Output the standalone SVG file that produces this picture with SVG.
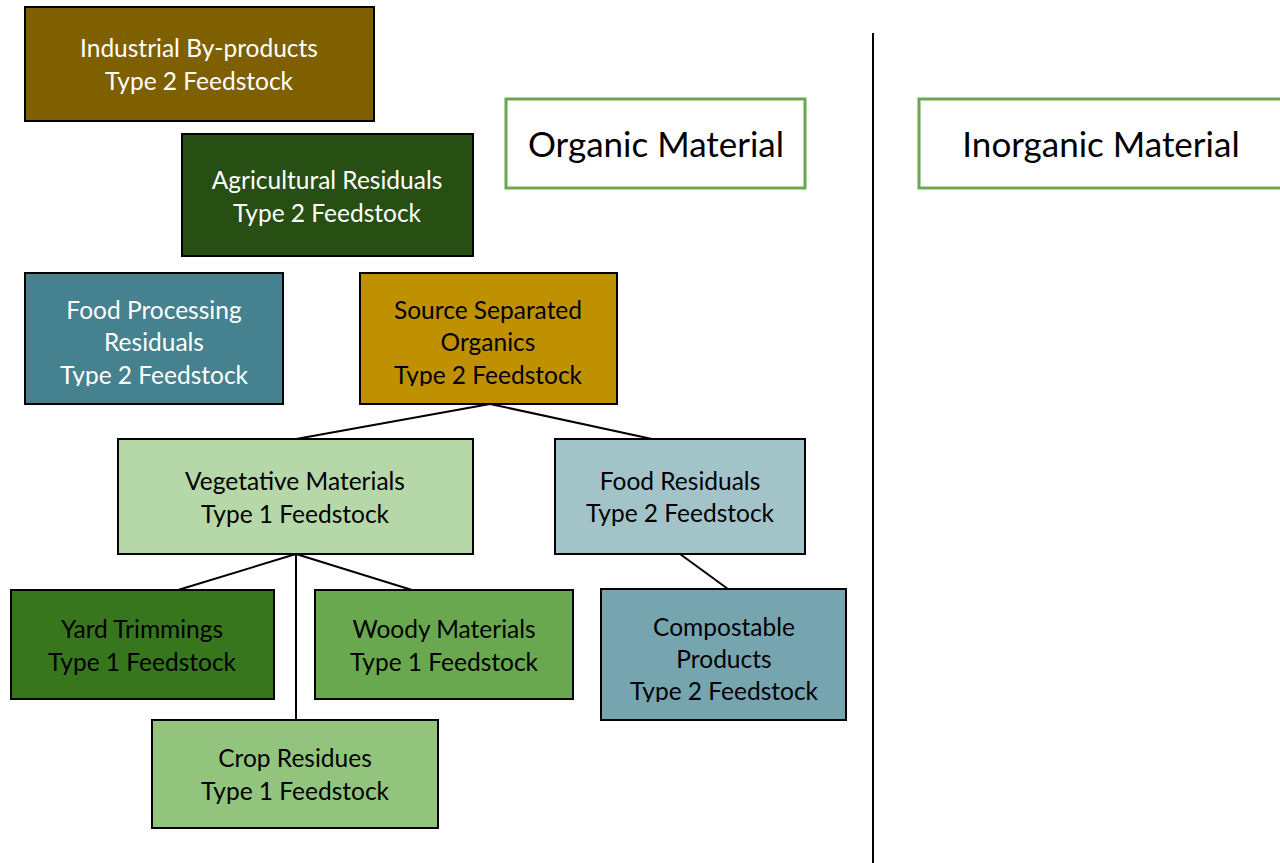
<svg xmlns="http://www.w3.org/2000/svg" width="1280" height="863" viewBox="0 0 1280 863">
  <style>
    .box { stroke: #000; stroke-width: 2; }
    .hdr { fill: #fff; stroke: #6aa84f; stroke-width: 3; }
    text { font-family: Lato, "Open Sans", "Liberation Sans", sans-serif; text-anchor: middle; }
    .lbl { font-size: 24.5px; }
    .big { font-size: 35px; fill: #000; }
    .w { fill: #fff; }
    .k { fill: #000; }
    .conn line { stroke: #000; stroke-width: 2; }
  </style>
  <defs>
    <!-- text areas of the three-line boxes cut off just under the last baseline -->
    <clipPath id="clipFood"><rect x="25" y="273" width="258" height="113"/></clipPath>
    <clipPath id="clipSource"><rect x="360" y="273" width="257" height="113"/></clipPath>
    <clipPath id="clipCompost"><rect x="601" y="589" width="245" height="113"/></clipPath>
  </defs>
  <rect width="1280" height="863" fill="#fff"/>

  <!-- divider between organic and inorganic -->
  <line x1="873" y1="33" x2="873" y2="863" stroke="#000" stroke-width="2"/>

  <g class="conn" id="connectors">
    <line x1="490" y1="404" x2="296" y2="439"/>
    <line x1="490" y1="404" x2="652" y2="439"/>
    <line x1="296" y1="554" x2="178" y2="590"/>
    <line x1="296" y1="554" x2="412" y2="590"/>
    <line x1="296" y1="554" x2="296" y2="720"/>
    <line x1="680" y1="554" x2="728" y2="589"/>
  </g>

  <g id="industrial">
    <rect class="box" x="25" y="7" width="349" height="114" fill="#7f6000"/>
    <text class="lbl w" x="199" y="57">Industrial By-products</text>
    <text class="lbl w" x="199" y="90">Type 2 Feedstock</text>
  </g>

  <g id="agricultural">
    <rect class="box" x="182" y="134" width="291" height="122" fill="#274e13"/>
    <text class="lbl w" x="327" y="189">Agricultural Residuals</text>
    <text class="lbl w" x="327" y="222">Type 2 Feedstock</text>
  </g>

  <g id="food-processing">
    <rect class="box" x="25" y="273" width="258" height="131" fill="#45818e"/>
    <g clip-path="url(#clipFood)">
      <text class="lbl w" x="154" y="319">Food Processing</text>
      <text class="lbl w" x="154" y="351">Residuals</text>
      <text class="lbl w" x="154" y="384">Type 2 Feedstock</text>
    </g>
  </g>

  <g id="source-separated">
    <rect class="box" x="360" y="273" width="257" height="131" fill="#bf9000"/>
    <g clip-path="url(#clipSource)">
      <text class="lbl k" x="488" y="319">Source Separated</text>
      <text class="lbl k" x="488" y="351">Organics</text>
      <text class="lbl k" x="488" y="384">Type 2 Feedstock</text>
    </g>
  </g>

  <g id="organic-material">
    <rect class="hdr" x="506" y="99" width="299" height="89"/>
    <text class="big" x="656" y="157">Organic Material</text>
  </g>

  <g id="inorganic-material">
    <rect class="hdr" x="919" y="99" width="364" height="89"/>
    <text class="big" x="1101" y="157">Inorganic Material</text>
  </g>

  <g id="vegetative">
    <rect class="box" x="118" y="439" width="355" height="115" fill="#b6d7a8"/>
    <text class="lbl k" x="295" y="490">Vegetative Materials</text>
    <text class="lbl k" x="295" y="523">Type 1 Feedstock</text>
  </g>

  <g id="food-residuals">
    <rect class="box" x="555" y="439" width="250" height="115" fill="#a2c4c9"/>
    <text class="lbl k" x="680" y="490">Food Residuals</text>
    <text class="lbl k" x="680" y="522">Type 2 Feedstock</text>
  </g>

  <g id="yard-trimmings">
    <rect class="box" x="11" y="590" width="263" height="109" fill="#38761d"/>
    <text class="lbl k" x="142" y="638">Yard Trimmings</text>
    <text class="lbl k" x="142" y="671">Type 1 Feedstock</text>
  </g>

  <g id="woody-materials">
    <rect class="box" x="315" y="590" width="258" height="109" fill="#6aa84f"/>
    <text class="lbl k" x="444" y="638">Woody Materials</text>
    <text class="lbl k" x="444" y="671">Type 1 Feedstock</text>
  </g>

  <g id="compostable-products">
    <rect class="box" x="601" y="589" width="245" height="131" fill="#76a5af"/>
    <g clip-path="url(#clipCompost)">
      <text class="lbl k" x="724" y="636">Compostable</text>
      <text class="lbl k" x="724" y="668">Products</text>
      <text class="lbl k" x="724" y="700">Type 2 Feedstock</text>
    </g>
  </g>

  <g id="crop-residues">
    <rect class="box" x="152" y="720" width="286" height="108" fill="#93c47d"/>
    <text class="lbl k" x="295" y="767">Crop Residues</text>
    <text class="lbl k" x="295" y="800">Type 1 Feedstock</text>
  </g>
</svg>
